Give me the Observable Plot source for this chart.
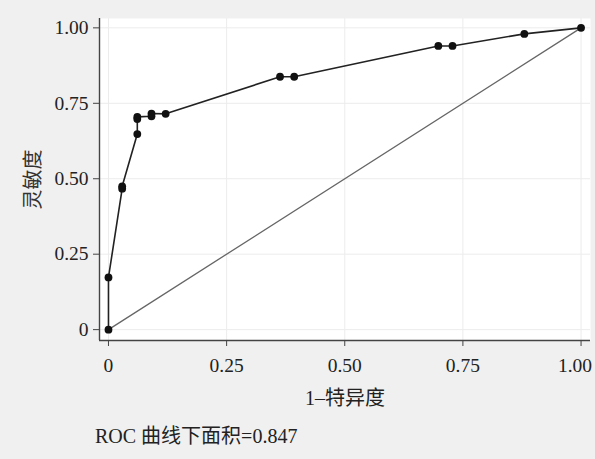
<!DOCTYPE html>
<html>
<head>
<meta charset="utf-8">
<script src="https://cdn.jsdelivr.net/npm/d3@7"></script>
<script src="https://cdn.jsdelivr.net/npm/@observablehq/plot@0.6"></script>
<style>
  html, body { margin: 0; padding: 0; background: #f0f0f0; width: 595px; height: 459px; overflow: hidden; }
  #chart svg { display: block; }
  #caption { font-family: "Liberation Serif", "Noto Sans CJK SC", serif; font-size: 20px; color: #222; position: absolute; left: 95px; top: 420px; white-space: nowrap; }
</style>
</head>
<body>
<div id="chart"></div>
<div id="caption"></div>
<script>
// ROC curve points (1 - specificity, sensitivity)
const fpr = [0, 0, 0.029, 0.029, 0.061, 0.061, 0.061, 0.091, 0.091, 0.121, 0.363, 0.393, 0.698, 0.728, 0.880, 1.0];
const tpr = [0, 0.173, 0.467, 0.475, 0.648, 0.698, 0.705, 0.707, 0.716, 0.715, 0.838, 0.838, 0.940, 0.940, 0.980, 1.0];
const diagonalX = [0, 1];
const diagonalY = [0, 1];
const tickValues = [0, 0.25, 0.5, 0.75, 1];
const tickLabels = ["0", "0.25", "0.50", "0.75", "1.00"];
const xDomain = [-0.019, 1.02];
const yDomain = [-0.036, 1.031];
const xTitle = "1–特异度";
const yTitle = "灵敏度";
const captionText = "ROC 曲线下面积=0.847";

const roc = fpr.map((x, i) => ({x, y: tpr[i]}));
const diag = diagonalX.map((x, i) => ({x, y: diagonalY[i]}));
const fmt = d => tickLabels[tickValues.indexOf(d)];
const innerTicks = tickValues.slice(0, -1);
const lastTick = tickValues.slice(-1);

const chart = Plot.plot({
  width: 595,
  height: 410,
  marginTop: 18,
  marginLeft: 99,
  marginRight: 5,
  marginBottom: 70,
  style: {background: "transparent", fontFamily: "'Liberation Serif', 'Noto Sans CJK SC', serif", fontSize: "19.5px", color: "#222"},
  x: {domain: xDomain},
  y: {domain: yDomain},
  marks: [
    Plot.frame({fill: "white", stroke: null}),
    Plot.ruleX(tickValues, {stroke: "#ececec", strokeWidth: 1}),
    Plot.ruleY(tickValues, {stroke: "#ececec", strokeWidth: 1}),
    Plot.ruleX([xDomain[0]], {stroke: "#444", strokeWidth: 1.4}),
    Plot.ruleY([yDomain[0]], {stroke: "#444", strokeWidth: 1.4}),
    Plot.axisX({ticks: tickValues, tickFormat: () => "", tickSize: 6, stroke: "#444", label: null}),
    Plot.text(innerTicks, {x: d => d, text: fmt, frameAnchor: "bottom", lineAnchor: "middle", dy: 25, fill: "#222"}),
    Plot.text(lastTick, {x: d => d, text: fmt, frameAnchor: "bottom", lineAnchor: "middle", dy: 25, dx: -6, fill: "#222"}),
    Plot.text([xTitle], {text: d => d, frameAnchor: "bottom", lineAnchor: "middle", dy: 58, fontSize: 20, fill: "#222"}),
    Plot.axisY({ticks: tickValues, tickFormat: fmt, tickSize: 6, tickPadding: 5, stroke: "#444", label: null, fill: "#222"}),
    Plot.text([yTitle], {text: d => d, frameAnchor: "left", textAnchor: "middle", lineAnchor: "middle", rotate: -90, dx: -66, fontSize: 20, fill: "#333"}),
    Plot.line(diag, {x: "x", y: "y", stroke: "#666", strokeWidth: 1.3}),
    Plot.line(roc, {x: "x", y: "y", stroke: "#222", strokeWidth: 1.6}),
    Plot.dot(roc, {x: "x", y: "y", r: 3.9, fill: "#111", stroke: null})
  ]
});
document.getElementById("chart").append(chart);
document.getElementById("caption").textContent = captionText;
</script>
</body>
</html>
